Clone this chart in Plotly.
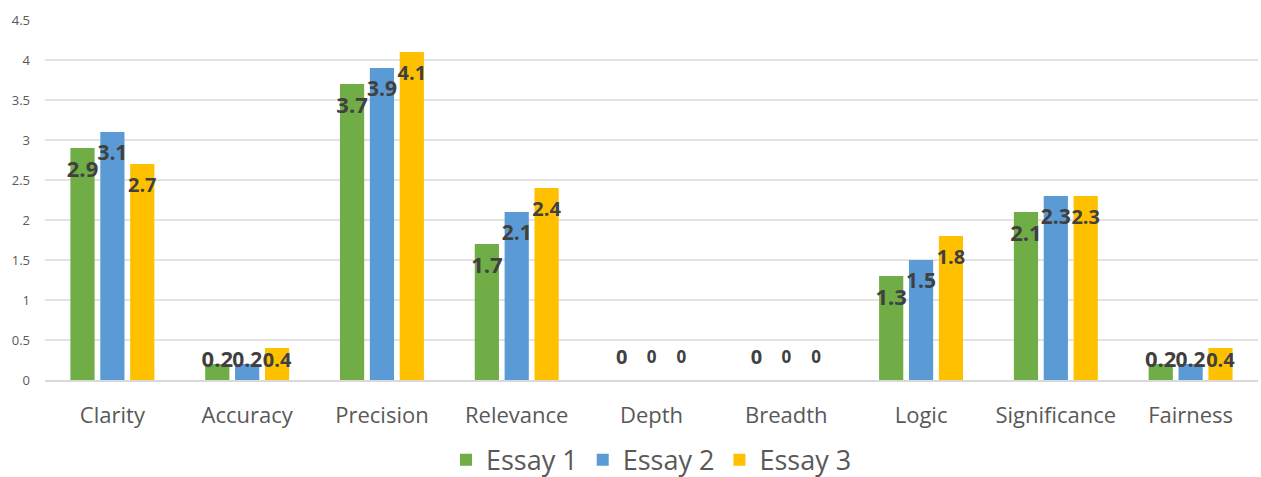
import plotly.graph_objects as go

categories = ["Clarity", "Accuracy", "Precision", "Relevance", "Depth",
              "Breadth", "Logic", "Significance", "Fairness"]
essay1 = [2.9, 0.2, 3.7, 1.7, 0, 0, 1.3, 2.1, 0.2]
essay2 = [3.1, 0.2, 3.9, 2.1, 0, 0, 1.5, 2.3, 0.2]
essay3 = [2.7, 0.4, 4.1, 2.4, 0, 0, 1.8, 2.3, 0.4]
series_names = ["Essay 1", "Essay 2", "Essay 3"]
colors = ["#70AD47", "#5B9BD5", "#FFC000"]
y_ticks = [0, 0.5, 1, 1.5, 2, 2.5, 3, 3.5, 4, 4.5]

BARGAP = 0.335
GROUPGAP = 0.19
label_sizes = [22, 21, 20]
zero_sizes = [20, 17, 17]

fig = go.Figure()
xs = list(range(len(categories)))
series = [essay1, essay2, essay3]
for name, vals, col in zip(series_names, series, colors):
    fig.add_trace(go.Bar(x=xs, y=vals, name=name, marker_color=col,
                         marker_line_width=0, hoverinfo="y"))

# data labels positioned relative to the bars (inside end, clamped near base)
slot = (1 - BARGAP) / 3
px_per_unit = 80.0
for k, vals in enumerate(series):
    lx = [i + (k - 1) * slot for i in xs]
    ly = [max(v - 23 / px_per_unit, 0.23) if v > 0 else 0.26 for v in vals]
    sizes = [label_sizes[k] if v > 0 else zero_sizes[k] for v in vals]
    fig.add_trace(go.Scatter(
        x=lx, y=ly, mode="text", text=[f"{v:g}" for v in vals],
        textposition="middle center",
        textfont=dict(family="Open Sans", size=sizes, color="#404040", weight="bold"),
        showlegend=False, hoverinfo="skip"))

fig.update_layout(
    width=1261, height=477,
    margin=dict(l=45, r=3, t=20, b=97, autoexpand=False),
    paper_bgcolor="white", plot_bgcolor="white",
    barmode="group", bargap=BARGAP, bargroupgap=GROUPGAP,
    font=dict(family="Open Sans", color="#595959"),
    legend=dict(orientation="h", x=0.5, xanchor="center",
                yref="container", y=0.035, yanchor="middle",
                font=dict(size=27, color="#595959"), itemwidth=30,
                traceorder="normal", tracegroupgap=0),
    xaxis=dict(range=[-0.5, len(categories) - 0.5], tickmode="array",
               tickvals=xs, ticktext=categories, showgrid=False,
               showline=True, linecolor="#d9d9d9", linewidth=1.5,
               ticks="", tickfont=dict(size=22, color="#595959"),
               ticklabelstandoff=15, zeroline=False, fixedrange=True,
               automargin=False),
    yaxis=dict(range=[0, 4.5], tickmode="array", tickvals=y_ticks,
               ticktext=[f"{t:g}" for t in y_ticks],
               showgrid=True, gridcolor="#e3e3e3", gridwidth=1.5,
               zeroline=False, showline=False, ticks="",
               tickfont=dict(size=13, color="#595959"),
               ticklabelstandoff=14, fixedrange=True, automargin=False),
)

fig.write_html("out.html")
